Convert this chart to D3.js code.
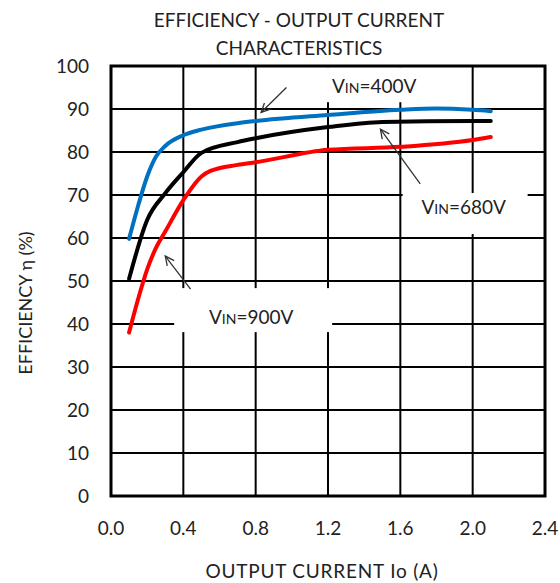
<!DOCTYPE html>
<html><head><meta charset="utf-8">
<script src="https://cdn.jsdelivr.net/npm/d3@7"></script>
<style>body{margin:0;background:#fff}svg{display:block}text{font-family:Lato,"Open Sans",sans-serif;fill:#222}</style>
</head><body><svg id="c" width="560" height="583"></svg>
<script>
const xTicks = [0.0, 0.4, 0.8, 1.2, 1.6, 2.0, 2.4];
const yTicks = [0,10,20,30,40,50,60,70,80,90,100];
const current400 = [0.1, 0.15, 0.2, 0.25, 0.3, 0.4, 0.5, 0.7, 0.8, 1.2, 1.6, 1.8, 2.0, 2.1];
const eff400     = [59.8, 67.5, 74.3, 79, 81.4, 83.9, 85.2, 86.7, 87.2, 88.6, 89.8, 90.1, 89.8, 89.5];
const current680 = [0.1, 0.2, 0.3, 0.4, 0.5, 0.7, 0.8, 1.2, 1.5, 2.0, 2.1];
const eff680     = [50.5, 64.2, 70.4, 75.3, 79.8, 82.3, 83.2, 85.8, 87, 87.2, 87.2];
const current900 = [0.1, 0.15, 0.2, 0.25, 0.3, 0.4, 0.5, 0.55, 0.7, 0.8, 1.2, 1.6, 2.0, 2.1];
const eff900     = [38, 45.8, 52.7, 57.8, 61.5, 68.8, 74.3, 75.6, 77, 77.6, 80.5, 81.2, 82.8, 83.5];
const seriesNames = ["400V", "680V", "900V"];
const seriesColors = ["#0070C0", "#000000", "#FF0000"];
// label anchor (data units), arrow from/to (data units)
const labelPos = [[1.455, 95.3], [1.95, 67.2], [0.775, 41.6]];
const arrowFrom = [[0.97, 95], [1.71, 72.6], [0.44, 48.1]];
const arrowTo = [[0.83, 89.2], [1.49, 85.3], [0.30, 55.8]];
const labelBoxW = [110, 125, 158];
const labelBoxH = [35, 41, 44];

const svg = d3.select("#c");
const L=111, R=545, T=66, B=496;
const x = d3.scaleLinear().domain([0,2.4]).range([L,R]);
const y = d3.scaleLinear().domain([0,100]).range([B,T]);

// grid
svg.append("g").selectAll("line").data(xTicks).join("line")
  .attr("x1",d=>x(d)).attr("x2",d=>x(d)).attr("y1",T).attr("y2",B)
  .attr("stroke","#000").attr("stroke-width",2);
svg.append("g").selectAll("line").data(yTicks).join("line")
  .attr("y1",d=>y(d)).attr("y2",d=>y(d)).attr("x1",L).attr("x2",R)
  .attr("stroke","#000").attr("stroke-width",2);

// white label boxes
const boxes = [
  [x(labelPos[0][0]) - 58, y(labelPos[0][1]) - 19],
  [x(labelPos[1][0]) - 61, y(labelPos[1][1]) - 14],
  [x(labelPos[2][0]) - 77, y(labelPos[2][1]) - 29]
];
svg.append("g").selectAll("rect").data(boxes).join("rect")
  .attr("x",d=>d[0]).attr("y",d=>d[1]).attr("width",(d,i)=>labelBoxW[i]).attr("height",(d,i)=>labelBoxH[i])
  .attr("fill","#fff");

// frame
svg.append("rect").attr("x",L).attr("y",T).attr("width",R-L).attr("height",B-T)
  .attr("fill","none").attr("stroke","#000").attr("stroke-width",3);

// curves
const line = d3.line().x(d=>x(d[0])).y(d=>y(d[1])).curve(d3.curveMonotoneX);
const sets = [d3.zip(current400,eff400), d3.zip(current680,eff680), d3.zip(current900,eff900)];
svg.append("g").selectAll("path").data(sets).join("path")
  .attr("d",line).attr("fill","none").attr("stroke",(d,i)=>seriesColors[i])
  .attr("stroke-width",4).attr("stroke-linecap","round").attr("stroke-linejoin","round");

// arrows
const ag = svg.append("g").attr("stroke","#333").attr("stroke-width",1.3).attr("fill","none");
arrowFrom.forEach((f,i)=>{
  const x1=x(f[0]), y1=y(f[1]), x2=x(arrowTo[i][0]), y2=y(arrowTo[i][1]);
  ag.append("line").attr("x1",x1).attr("y1",y1).attr("x2",x2).attr("y2",y2);
  const a=Math.atan2(y2-y1,x2-x1), h=10, s=0.45;
  ag.append("path").attr("d",`M${x2-h*Math.cos(a-s)},${y2-h*Math.sin(a-s)}L${x2},${y2}L${x2-h*Math.cos(a+s)},${y2-h*Math.sin(a+s)}`);
});

// labels
labelPos.forEach((p,i)=>{
  const t = svg.append("text").attr("x",x(p[0])).attr("y",y(p[1])+7).attr("text-anchor","middle").attr("font-size",19);
  t.append("tspan").text("V");
  t.append("tspan").attr("font-size",14).text("IN");
  t.append("tspan").text("="+seriesNames[i]);
});

// ticks
svg.append("g").selectAll("text").data(yTicks).join("text")
  .attr("x",89).attr("y",d=>y(d)+7).attr("text-anchor","end").attr("font-size",19)
  .text(d=>d);
svg.append("g").selectAll("text").data(xTicks).join("text")
  .attr("x",d=>x(d)).attr("y",535).attr("text-anchor","middle").attr("font-size",19)
  .text(d=>d.toFixed(1));

// titles
svg.append("text").attr("x",299).attr("y",27).attr("text-anchor","middle").attr("font-size",19).text("EFFICIENCY - OUTPUT CURRENT");
svg.append("text").attr("x",299).attr("y",55).attr("text-anchor","middle").attr("font-size",19).text("CHARACTERISTICS");
svg.append("text").attr("x",322).attr("y",578).attr("text-anchor","middle").attr("font-size",19).attr("letter-spacing",0.8).text("OUTPUT CURRENT Io (A)");
svg.append("text").attr("transform","translate(32,303) rotate(-90)").attr("text-anchor","middle").attr("font-size",18).text("EFFICIENCY η (%)");
</script></body></html>
